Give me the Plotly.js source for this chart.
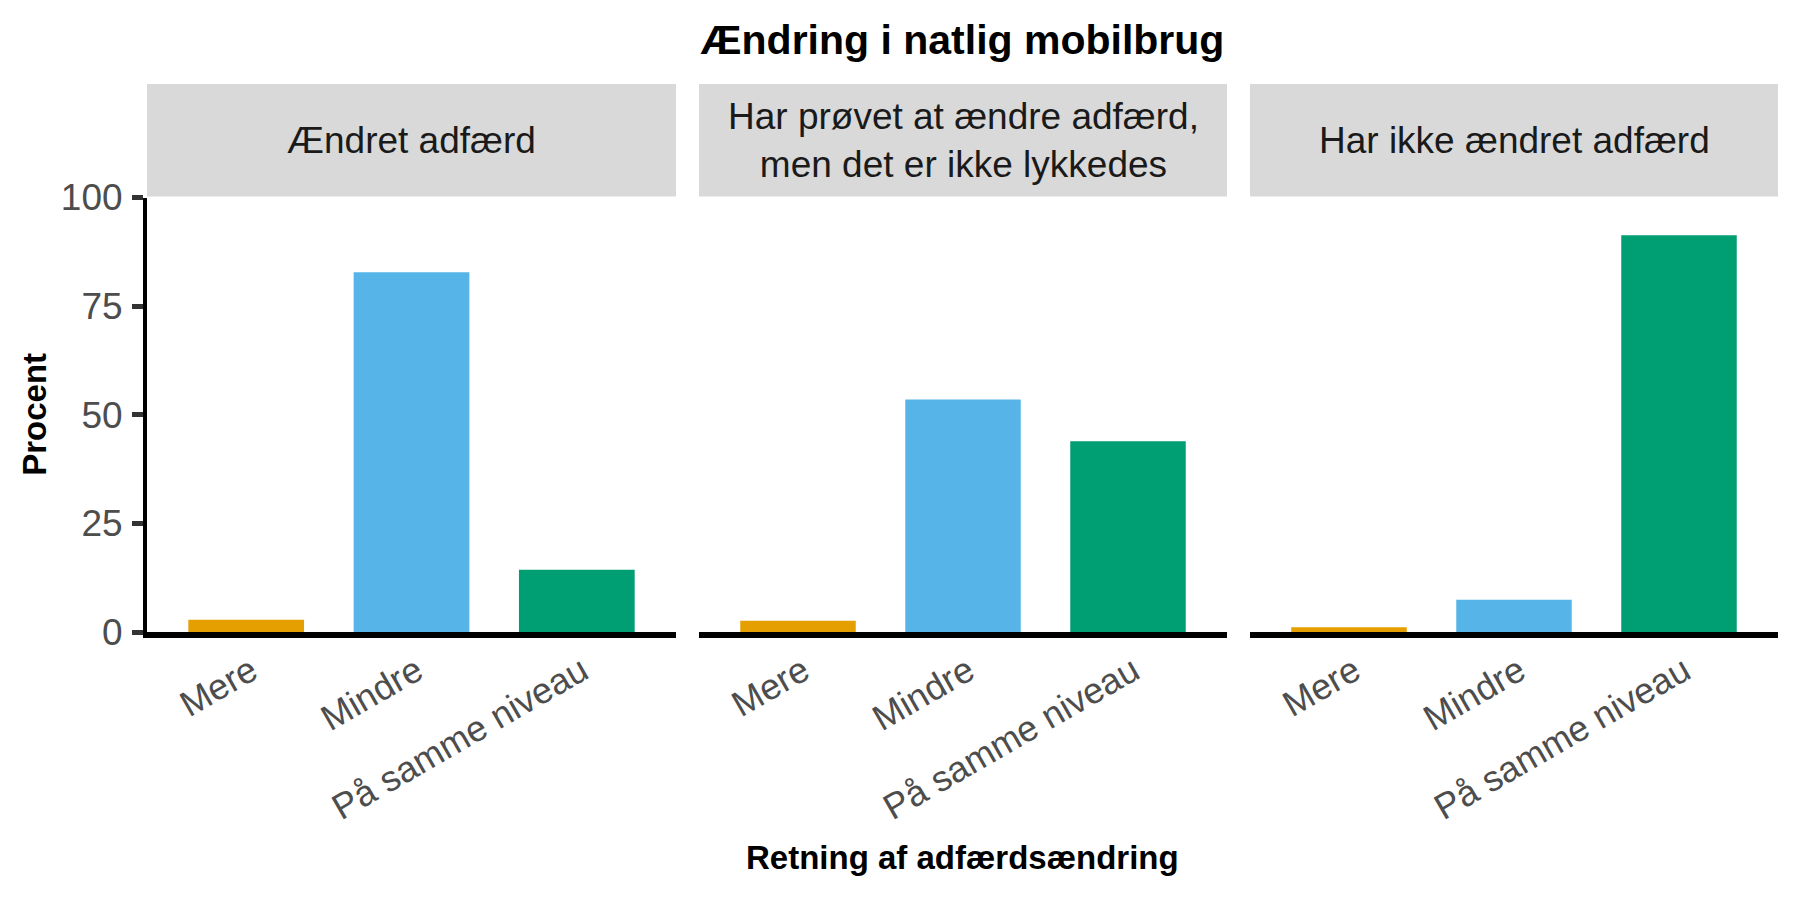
<!DOCTYPE html>
<html>
<head>
<meta charset="utf-8">
<script src="https://cdn.plot.ly/plotly-3.0.1.min.js"></script>
<style>html,body{margin:0;padding:0;background:#fff;}#chart{width:1800px;height:900px;}</style>
</head>
<body>
<div id="chart"></div>
<script>
const categories = ["Mere", "Mindre", "På samme niveau"];
const categoryColors = ["#E69F00", "#56B4E9", "#009E73"];
const panelTitles = ["Ændret adfærd", "Har prøvet at ændre adfærd,<br>men det er ikke lykkedes", "Har ikke ændret adfærd"];
const aendretAdfaerd = [2.8, 82.8, 14.3];
const proevetAendre = [2.6, 53.5, 43.9];
const ikkeAendret = [1.1, 7.4, 91.3];
const yTicks = [0, 25, 50, 75, 100];
const chartTitle = "Ændring i natlig mobilbrug";
const xTitle = "Retning af adfærdsændring";
const yTitle = "Procent";

const W = 1800, H = 900;
const panelPx = [[147, 676], [699, 1227], [1250, 1778]];
const plotTop = 197.5, plotBottom = 632;
const stripTop = 84, stripBottom = 196.5;
const px2x = p => p / W;
const px2y = p => 1 - p / H;

const seriesList = [aendretAdfaerd, proevetAendre, ikkeAendret];
const font = "Liberation Sans, Arial, Helvetica, sans-serif";

const traces = seriesList.map((vals, i) => ({
  type: "bar",
  x: categories,
  y: vals,
  xaxis: i === 0 ? "x" : "x" + (i + 1),
  yaxis: i === 0 ? "y" : "y" + (i + 1),
  marker: { color: categoryColors, line: { width: 0 } },
  showlegend: false,
  hoverinfo: "x+y"
}));

const layout = {
  width: W, height: H,
  margin: { l: 0, r: 0, t: 0, b: 0 },
  paper_bgcolor: "#ffffff",
  plot_bgcolor: "#ffffff",
  bargap: 0.3,
  font: { family: font, color: "#4D4D4D" },
  title: {
    text: "<b>" + chartTitle + "</b>",
    x: px2x((panelPx[0][0] + panelPx[2][1]) / 2), xanchor: "center",
    y: px2y(40), yanchor: "middle",
    font: { family: font, size: 41, color: "#000000" }
  },
  shapes: [],
  annotations: []
};

panelPx.forEach((p, i) => {
  const sfx = i === 0 ? "" : String(i + 1);
  layout["xaxis" + sfx] = {
    domain: [px2x(p[0]), px2x(p[1])],
    anchor: "y" + sfx,
    type: "category",
    range: [-0.6, 2.6],
    showline: true, linecolor: "#000000", linewidth: 6,
    ticks: "", showgrid: false, zeroline: false,
    tickangle: -30,
    tickfont: { family: font, size: 36, color: "#4D4D4D" },
    ticklabelstandoff: -2,
    ticklabelshift: 5,
    fixedrange: true
  };
  layout["yaxis" + sfx] = {
    domain: [px2y(plotBottom), px2y(plotTop)],
    anchor: "x" + sfx,
    range: [0, 100],
    tickvals: yTicks,
    showticklabels: i === 0,
    showline: i === 0, linecolor: "#000000", linewidth: 4,
    ticks: i === 0 ? "outside" : "",
    ticklen: 11, tickwidth: 5, tickcolor: "#333333",
    tickfont: { family: font, size: 37, color: "#4D4D4D" },
    ticklabelstandoff: 2,
    showgrid: false, zeroline: false,
    fixedrange: true
  };
  if (i > 0) layout["yaxis" + sfx].matches = "y";
  layout.shapes.push({
    type: "rect", xref: "paper", yref: "paper",
    x0: px2x(p[0]), x1: px2x(p[1]), y0: px2y(stripBottom), y1: px2y(stripTop),
    fillcolor: "#D9D9D9", line: { width: 0 }, layer: "below"
  });
  layout.annotations.push({
    xref: "paper", yref: "paper",
    x: px2x((p[0] + p[1]) / 2), y: px2y((stripTop + stripBottom) / 2),
    xanchor: "center", yanchor: "middle",
    text: panelTitles[i], showarrow: false, align: "center",
    font: { family: font, size: 37, color: "#1A1A1A" }
  });
});

layout.annotations.push({
  xref: "paper", yref: "paper",
  x: px2x((panelPx[0][0] + panelPx[2][1]) / 2), y: px2y(857),
  xanchor: "center", yanchor: "middle",
  text: "<b>" + xTitle + "</b>", showarrow: false,
  font: { family: font, size: 33, color: "#000000" }
});
layout.annotations.push({
  xref: "paper", yref: "paper",
  x: px2x(35), y: px2y((plotTop + plotBottom) / 2),
  xanchor: "center", yanchor: "middle", textangle: -90,
  text: "<b>" + yTitle + "</b>", showarrow: false,
  font: { family: font, size: 33, color: "#000000" }
});

Plotly.newPlot("chart", traces, layout, { displayModeBar: false, staticPlot: true });
</script>
</body>
</html>
